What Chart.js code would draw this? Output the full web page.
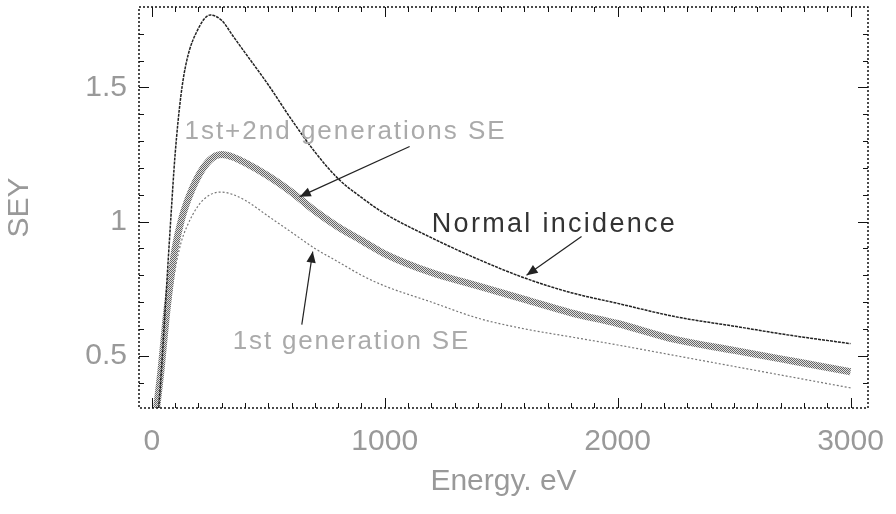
<!DOCTYPE html>
<html>
<head>
<meta charset="utf-8">
<script src="https://cdn.jsdelivr.net/npm/chart.js@4.4.1/dist/chart.umd.min.js"></script>
<style>
  body { margin: 0; background: #fff; }
</style>
</head>
<body>
<canvas id="seyChart" width="896" height="514"></canvas>
<script>
// values
const energy = [20, 40, 60, 80, 100, 125, 150, 200, 250, 300, 350, 400, 500, 600, 700, 800, 900, 1000, 1200, 1400, 1600, 1800, 2000, 2250, 2500, 2750, 3000];
const normalIncidence = [0.2, 0.43, 0.71, 0.99, 1.25, 1.47, 1.6, 1.72, 1.77, 1.75, 1.69, 1.63, 1.51, 1.38, 1.26, 1.16, 1.09, 1.03, 0.94, 0.86, 0.79, 0.735, 0.695, 0.645, 0.61, 0.575, 0.545];
const bothGenerations = [0.3, 0.45, 0.63, 0.78, 0.9, 1.0, 1.07, 1.17, 1.23, 1.25, 1.24, 1.22, 1.17, 1.11, 1.04, 0.98, 0.93, 0.88, 0.81, 0.76, 0.71, 0.66, 0.62, 0.56, 0.52, 0.48, 0.44];
const firstGeneration = [0.25, 0.38, 0.55, 0.7, 0.82, 0.92, 0.98, 1.06, 1.1, 1.11, 1.1, 1.08, 1.02, 0.96, 0.9, 0.85, 0.8, 0.76, 0.7, 0.64, 0.6, 0.57, 0.54, 0.5, 0.46, 0.42, 0.38];

const xTickValues = [0, 1000, 2000, 3000];
const yTickValues = [0.5, 1, 1.5];

const noteTexts = ['1st+2nd generations SE', 'Normal incidence', '1st generation SE'];

const toPoints = vals => energy.map((e, i) => ({ x: e, y: vals[i] }));

const ctx = document.getElementById('seyChart');
const c2d = ctx.getContext('2d');

// checkered fill for the thick band
const tile = document.createElement('canvas');
tile.width = 2;
tile.height = 2;
const tctx = tile.getContext('2d');
tctx.fillStyle = '#e0e0e0';
tctx.fillRect(0, 0, 2, 2);
tctx.fillStyle = '#666';
tctx.fillRect(0, 0, 1, 1);
tctx.fillRect(1, 1, 1, 1);
const bandPattern = c2d.createPattern(tile, 'repeat');

const labelFont = { family: 'Liberation Sans', size: 30 };

// box, inner ticks, notes and arrows
const framePlugin = {
    id: 'frame',
    afterDatasetsDraw(chart) {
        const { ctx, chartArea: a, scales } = chart;
        const xs = scales.x, ys = scales.y;

        ctx.save();
        ctx.strokeStyle = '#111';
        ctx.lineWidth = 1.5;
        ctx.setLineDash([2, 2]);
        ctx.strokeRect(a.left, a.top, a.right - a.left, a.bottom - a.top);
        ctx.setLineDash([]);

        ctx.lineWidth = 1;
        for (let v = 0; v <= 3000; v += 100) {
            const px = Math.round(xs.getPixelForValue(v)) + 0.5;
            const len = v % 1000 === 0 ? 10 : 5;
            ctx.beginPath();
            ctx.moveTo(px, a.bottom);
            ctx.lineTo(px, a.bottom - len);
            ctx.moveTo(px, a.top);
            ctx.lineTo(px, a.top + len);
            ctx.stroke();
        }
        for (let k = 4; k <= 17; k++) {
            const v = k / 10;
            const py = Math.round(ys.getPixelForValue(v)) + 0.5;
            const len = k % 5 === 0 ? 10 : 5;
            ctx.beginPath();
            ctx.moveTo(a.left, py);
            ctx.lineTo(a.left + len, py);
            ctx.moveTo(a.right, py);
            ctx.lineTo(a.right - len, py);
            ctx.stroke();
        }

        // notes, anchored in data units
        const notes = [
            { x: 140, y: 1.336, color: '#aaa', size: 26, spacing: 2 },
            { x: 1202, y: 0.99, color: '#333', size: 27, spacing: 2.3 },
            { x: 348, y: 0.552, color: '#aaa', size: 26, spacing: 1.8 }
        ];
        ctx.textBaseline = 'middle';
        ctx.textAlign = 'left';
        notes.forEach((n, i) => {
            ctx.font = n.size + 'px "Liberation Sans"';
            ctx.letterSpacing = n.spacing + 'px';
            ctx.fillStyle = n.color;
            ctx.fillText(noteTexts[i], xs.getPixelForValue(n.x), ys.getPixelForValue(n.y));
        });
        ctx.letterSpacing = '0px';

        const arrows = [
            [1107, 1.28, 635, 1.093],
            [1845, 0.944, 1609, 0.80],
            [644, 0.616, 691, 0.888]
        ];
        ctx.strokeStyle = '#222';
        ctx.fillStyle = '#222';
        ctx.lineWidth = 1.2;
        arrows.forEach(([e1, s1, e2, s2]) => {
            const x1 = xs.getPixelForValue(e1), y1 = ys.getPixelForValue(s1);
            const x2 = xs.getPixelForValue(e2), y2 = ys.getPixelForValue(s2);
            const ang = Math.atan2(y2 - y1, x2 - x1);
            ctx.beginPath();
            ctx.moveTo(x1, y1);
            ctx.lineTo(x2, y2);
            ctx.stroke();
            ctx.beginPath();
            ctx.moveTo(x2, y2);
            ctx.lineTo(x2 - 12 * Math.cos(ang - 0.4), y2 - 12 * Math.sin(ang - 0.4));
            ctx.lineTo(x2 - 12 * Math.cos(ang + 0.4), y2 - 12 * Math.sin(ang + 0.4));
            ctx.closePath();
            ctx.fill();
        });
        ctx.restore();
    }
};

const seyChart = new Chart(ctx, {

    type: 'line',
    data: {
        datasets: [
            {
                label: 'Normal incidence',
                data: toPoints(normalIncidence),
                borderColor: '#222',
                borderWidth: 1.5,
                borderDash: [3, 1],
                cubicInterpolationMode: 'monotone'
            },
            {
                label: '1st+2nd generations SE',
                data: toPoints(bothGenerations),
                borderColor: bandPattern,
                borderWidth: 7,
                cubicInterpolationMode: 'monotone'
            },
            {
                label: '1st generation SE',
                data: toPoints(firstGeneration),
                borderColor: '#777',
                borderWidth: 1.2,
                borderDash: [2, 2],
                cubicInterpolationMode: 'monotone'
            }
        ]
    },

    options: {
        responsive: false,
        animation: false,
        devicePixelRatio: 1,
        elements: {
            point: { radius: 0 }
        },
        layout: {
            padding: { top: 7, right: 28, left: 0, bottom: 0 }
        },
        plugins: {
            legend: { display: false },
            tooltip: { enabled: false }
        },
        scales: {
            x: {
                type: 'linear',
                min: -55,
                max: 3075,
                afterBuildTicks: s => { s.ticks = xTickValues.map(v => ({ value: v })); },
                afterFit: s => {
                    s.height = 106;
                    s.paddingLeft = 0;
                    s.paddingRight = 0;
                },
                ticks: {
                    color: '#999',
                    font: labelFont,
                    padding: 16,
                    maxRotation: 0,
                    callback: v => String(v)
                },
                grid: { display: false, drawTicks: false },
                border: { display: false },
                title: {
                    display: true,
                    text: 'Energy. eV',
                    color: '#999',
                    font: labelFont,
                    padding: { top: 0, bottom: 14 }
                }
            },
            y: {
                min: 0.305,
                max: 1.8,
                afterBuildTicks: s => { s.ticks = yTickValues.map(v => ({ value: v })); },
                afterFit: s => {
                    s.width = 139;
                    s.paddingTop = 0;
                    s.paddingBottom = 0;
                },
                ticks: {
                    color: '#999',
                    font: labelFont,
                    padding: 12,
                    callback: v => String(v)
                },
                grid: { display: false, drawTicks: false },
                border: { display: false },
                title: {
                    display: true,
                    text: 'SEY',
                    color: '#999',
                    font: labelFont,
                    padding: { top: 2, bottom: 0 }
                }
            }
        }
    },

    plugins: [framePlugin]

});
</script>
</body>
</html>
